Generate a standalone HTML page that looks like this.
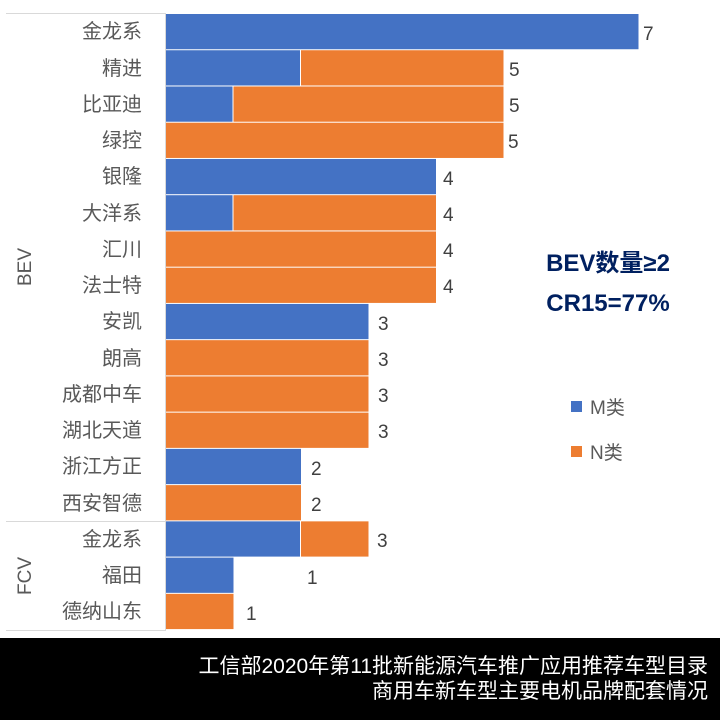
<!DOCTYPE html>
<html><head><meta charset="utf-8"><style>
body{margin:0;background:#fff;}
svg{display:block;font-family:"Liberation Sans","Noto Sans CJK SC",sans-serif;}
</style></head><body>
<svg width="720" height="720" xmlns="http://www.w3.org/2000/svg">
<rect width="720" height="720" fill="#fff"/>
<g>
<rect x="166" y="14" width="472.5" height="35.24" fill="#4472c4"/>
<rect x="166" y="50.24" width="134" height="35.24" fill="#4472c4"/>
<rect x="301" y="50.24" width="202.5" height="35.24" fill="#ed7d31"/>
<rect x="166" y="86.48" width="66.5" height="35.24" fill="#4472c4"/>
<rect x="233.5" y="86.48" width="270" height="35.24" fill="#ed7d31"/>
<rect x="166" y="122.72" width="337.5" height="35.24" fill="#ed7d31"/>
<rect x="166" y="158.96" width="270" height="35.24" fill="#4472c4"/>
<rect x="166" y="195.2" width="66.5" height="35.24" fill="#4472c4"/>
<rect x="233.5" y="195.2" width="202.5" height="35.24" fill="#ed7d31"/>
<rect x="166" y="231.44" width="270" height="35.24" fill="#ed7d31"/>
<rect x="166" y="267.68" width="270" height="35.24" fill="#ed7d31"/>
<rect x="166" y="303.92" width="202.5" height="35.24" fill="#4472c4"/>
<rect x="166" y="340.16" width="202.5" height="35.24" fill="#ed7d31"/>
<rect x="166" y="376.4" width="202.5" height="35.24" fill="#ed7d31"/>
<rect x="166" y="412.64" width="202.5" height="35.24" fill="#ed7d31"/>
<rect x="166" y="448.88" width="135" height="35.24" fill="#4472c4"/>
<rect x="166" y="485.12" width="135" height="35.24" fill="#ed7d31"/>
<rect x="166" y="521.36" width="134" height="35.24" fill="#4472c4"/>
<rect x="301" y="521.36" width="67.5" height="35.24" fill="#ed7d31"/>
<rect x="166" y="557.6" width="67.5" height="35.24" fill="#4472c4"/>
<rect x="166" y="593.84" width="67.5" height="35.24" fill="#ed7d31"/>
</g>
<line x1="6" y1="13.5" x2="166" y2="13.5" stroke="#d9d9d9"/>
<line x1="6" y1="521.5" x2="166" y2="521.5" stroke="#d9d9d9"/>
<line x1="6" y1="630.5" x2="166" y2="630.5" stroke="#d9d9d9"/>
<line x1="165.5" y1="13" x2="165.5" y2="631" stroke="#d9d9d9"/>
<g font-size="20" fill="#595959" text-anchor="end">
<text x="142" y="38">金龙系</text>
<text x="142" y="75">精进</text>
<text x="142" y="111">比亚迪</text>
<text x="142" y="147">绿控</text>
<text x="142" y="183">银隆</text>
<text x="142" y="220">大洋系</text>
<text x="142" y="256">汇川</text>
<text x="142" y="292">法士特</text>
<text x="142" y="328">安凯</text>
<text x="142" y="365">朗高</text>
<text x="142" y="401">成都中车</text>
<text x="142" y="437">湖北天道</text>
<text x="142" y="473">浙江方正</text>
<text x="142" y="510">西安智德</text>
<text x="142" y="546">金龙系</text>
<text x="142" y="582">福田</text>
<text x="142" y="618">德纳山东</text>
</g>
<g font-size="19" fill="#595959" text-anchor="middle">
<text transform="translate(31,267) rotate(-90)">BEV</text>
<text transform="translate(31,576) rotate(-90)">FCV</text>
</g>
<g font-size="19" fill="#404040">
<text x="643" y="40">7</text>
<text x="509" y="76">5</text>
<text x="509" y="112">5</text>
<text x="508" y="148">5</text>
<text x="443" y="185">4</text>
<text x="443" y="221">4</text>
<text x="443" y="257">4</text>
<text x="443" y="293">4</text>
<text x="378" y="330">3</text>
<text x="378" y="366">3</text>
<text x="378" y="402">3</text>
<text x="378" y="438">3</text>
<text x="311" y="475">2</text>
<text x="311" y="511">2</text>
<text x="377" y="547">3</text>
<text x="307" y="584">1</text>
<text x="246" y="620">1</text>
</g>
<g font-size="24" font-weight="bold" fill="#002060" text-anchor="middle">
<text x="608" y="271">BEV数量≥2</text>
<text x="608" y="311">CR15=77%</text>
</g>
<rect x="571" y="401" width="11" height="11" fill="#4472c4"/>
<rect x="571" y="446" width="11" height="11" fill="#ed7d31"/>
<g font-size="19" fill="#595959">
<text x="590" y="414">M类</text>
<text x="590" y="459">N类</text>
</g>
<rect x="0" y="638" width="720" height="82" fill="#000"/>
<g font-size="21" fill="#fff" text-anchor="end">
<text x="708" y="673">工信部2020年第11批新能源汽车推广应用推荐车型目录</text>
<text x="708" y="698">商用车新车型主要电机品牌配套情况</text>
</g>
</svg>
</body></html>
